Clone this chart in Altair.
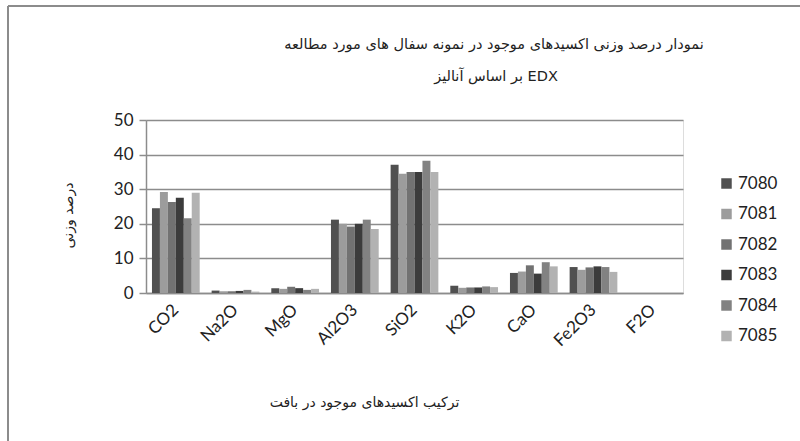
import altair as alt
import pandas as pd

# Oxides measured by EDX and the weight percent of each sample
oxides = ["CO2", "Na2O", "MgO", "Al2O3", "SiO2", "K2O", "CaO", "Fe2O3", "F2O"]
samples = ["7080", "7081", "7082", "7083", "7084", "7085"]

s7080 = [24.5, 0.7, 1.4, 21.2, 37.1, 2.1, 5.8, 7.5, 0]
s7081 = [29.2, 0.5, 1.2, 20.0, 34.5, 1.5, 6.2, 6.7, 0]
s7082 = [26.3, 0.5, 1.8, 19.2, 35.0, 1.6, 8.0, 7.4, 0]
s7083 = [27.5, 0.6, 1.4, 20.0, 35.0, 1.6, 5.6, 7.7, 0]
s7084 = [21.6, 0.9, 0.9, 21.2, 38.2, 1.9, 8.9, 7.5, 0]
s7085 = [29.0, 0.4, 1.2, 18.5, 35.0, 1.7, 7.7, 6.1, 0]

series = [s7080, s7081, s7082, s7083, s7084, s7085]
greys = ["#505050", "#9c9c9c", "#727272", "#3c3c3c", "#828282", "#b2b2b2"]

rows = []
for name, vals in zip(samples, series):
    for ox, v in zip(oxides, vals):
        rows.append({"oxide": ox, "sample": name, "value": v})
df = pd.DataFrame(rows)

title_line1 = "نمودار درصد وزنی اکسیدهای موجود در نمونه سفال های مورد مطالعه"
title_line2 = "بر اساس آنالیز  EDX"
x_title = "ترکیب اکسیدهای موجود در بافت"
y_title = "درصد وزنی"

# one-row table for the single decorations (heading, frame)
single = pd.DataFrame({"line1": [title_line1], "line2": [title_line2]})

bars = alt.Chart(df).mark_bar().encode(
    x=alt.X(
        "oxide:N",
        sort=oxides,
        scale=alt.Scale(paddingInner=0.2, paddingOuter=0.1),
        axis=alt.Axis(
            title=x_title,
            labelAngle=-45,
            labelAlign="right",
            labelBaseline="middle",
            labelFont="Lato",
            labelFontSize=17,
            labelColor="#222222",
            labelPadding=14,
            ticks=False,
            domainColor="#8c8c8c",
            domainWidth=1.5,
            titleFont="DejaVu Sans",
            titleFontSize=14,
            titleFontWeight="normal",
            titleColor="#222222",
            titleX=218,
            titleY=109,
            titleAlign="center",
            titleBaseline="middle",
        ),
    ),
    xOffset=alt.XOffset("sample:N", sort=samples),
    y=alt.Y(
        "value:Q",
        scale=alt.Scale(domain=[0, 50]),
        axis=alt.Axis(
            title=y_title,
            values=[0, 10, 20, 30, 40, 50],
            labelFont="Lato",
            labelFontSize=17,
            labelColor="#222222",
            labelPadding=6,
            tickSize=7,
            tickColor="#8c8c8c",
            tickWidth=1.5,
            domainColor="#8c8c8c",
            domainWidth=1.5,
            gridColor="#8c8c8c",
            gridWidth=1.5,
            titleFont="DejaVu Sans",
            titleFontSize=14,
            titleFontWeight="normal",
            titleColor="#222222",
            titleX=-78,
            titleY=95,
            titleAngle=-90,
            titleAlign="center",
            titleBaseline="middle",
        ),
    ),
    color=alt.Color(
        "sample:N",
        sort=samples,
        scale=alt.Scale(domain=samples, range=greys),
        legend=alt.Legend(
            title=None,
            orient="none",
            legendX=572,
            legendY=55,
            symbolType="square",
            symbolSize=110,
            symbolStrokeWidth=0,
            labelFont="Lato",
            labelFontSize=17,
            labelColor="#222222",
            rowPadding=12.5,
            labelOffset=3,
        ),
    ),
)

# two-line heading above the plot
heading1 = alt.Chart(single).mark_text(
    font="DejaVu Sans", fontSize=14.5, color="#222222", align="center", baseline="middle"
).encode(x=alt.value(348), y=alt.value(-75), text="line1:N")
heading2 = alt.Chart(single).mark_text(
    font="DejaVu Sans", fontSize=14.5, color="#222222", align="center", baseline="middle"
).encode(x=alt.value(350), y=alt.value(-43), text="line2:N")

# outer frame of the chart
frame_top = alt.Chart(single).mark_rule(color="#8c8c8c", strokeWidth=2).encode(
    x=alt.value(-138), x2=alt.value(700), y=alt.value(-114)
)
frame_left = alt.Chart(single).mark_rule(color="#8c8c8c", strokeWidth=2).encode(
    x=alt.value(-138), y=alt.value(-114), y2=alt.value(360)
)

chart = alt.layer(bars, heading1, heading2, frame_top, frame_left).properties(
    width=537,
    height=173,
    autosize=alt.AutoSizeParams(type="none"),
    padding={"left": 146, "top": 120, "right": 117, "bottom": 148},
).configure_view(stroke=None).configure(background="white")

chart.save("out.html", embed_options={"renderer": "svg", "actions": False})
